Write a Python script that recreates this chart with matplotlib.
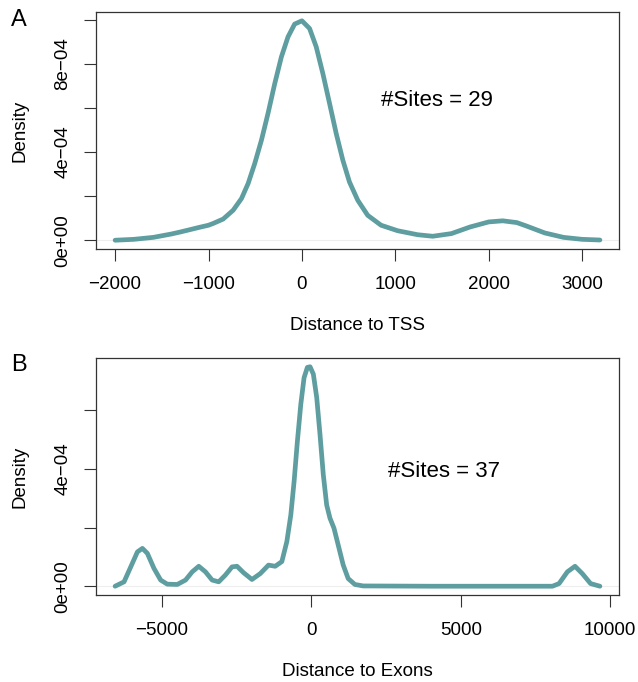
import matplotlib
matplotlib.use('Agg')
import matplotlib.pyplot as plt

# Panel A: density of distance to TSS
tss_x = [-2000, -1800, -1590, -1400, -1305, -1198, -1092, -1000, -950, -843,
         -736, -647, -576, -505, -433, -363, -291, -220, -149, -78, 0,
         82, 153, 224, 296, 367, 438, 509, 598, 704, 847, 1025, 1238,
         1400, 1600, 1800, 2000, 2150, 2300, 2400, 2600, 2800, 3000, 3190]
tss_y = [0.0, 4e-06, 1.3e-05, 2.8e-05, 3.7e-05, 4.8e-05, 5.9e-05, 6.8e-05,
         7.6e-05, 9.6e-05, 1.36e-04, 1.89e-04, 2.57e-04, 3.48e-04, 4.54e-04,
         5.75e-04, 7.1e-04, 8.31e-04, 9.22e-04, 9.8e-04, 9.95e-04,
         9.6e-04, 8.77e-04, 7.56e-04, 6.2e-04, 4.84e-04, 3.63e-04, 2.64e-04,
         1.81e-04, 1.13e-04, 6.8e-05, 4.3e-05, 2.5e-05, 1.8e-05, 3.0e-05,
         6.0e-05, 8.3e-05, 8.8e-05, 8.0e-05, 6.5e-05, 3.3e-05, 1.3e-05,
         4e-06, 1e-06]
tss_sites = 29

# Panel B: density of distance to exons
exon_x = [-6567, -6267, -6043, -5820, -5653, -5487, -5267, -5043, -4820, -4487,
          -4210, -3987, -3767, -3543, -3320, -3100, -2877, -2653, -2487, -2267,
          -1987, -1710, -1433, -1210, -987, -820, -687, -577, -467, -353, -243,
          -133, -43, 67, 180, 290, 400, 513, 623, 757, 900, 1067, 1233, 1457,
          1733, 4000, 6000, 8067, 8289, 8567, 8822, 9067, 9344, 9656]
exon_y = [0.0, 1.5e-05, 6.6e-05, 1.17e-04, 1.29e-04, 1.12e-04, 6.1e-05,
          2.1e-05, 7e-06, 6e-06, 2.1e-05, 4.9e-05, 6.8e-05, 4.9e-05, 2.1e-05,
          1.5e-05, 3.8e-05, 6.6e-05, 6.8e-05, 4.6e-05, 2.3e-05, 4.3e-05,
          7.2e-05, 6.8e-05, 8.4e-05, 1.52e-04, 2.43e-04, 3.57e-04, 4.94e-04,
          6.2e-04, 7.11e-04, 7.46e-04, 7.48e-04, 7.23e-04, 6.43e-04, 5.17e-04,
          3.8e-04, 2.77e-04, 2.32e-04, 1.98e-04, 1.4e-04, 7.2e-05, 2.6e-05,
          6e-06, 1e-06, 0.0, 0.0, 0.0, 9e-06, 4.9e-05, 6.8e-05, 4.3e-05,
          9e-06, 0.0]
exon_sites = 37

teal = '#5f9ea0'
plt.rcParams['font.family'] = ['Liberation Sans', 'DejaVu Sans']

fig = plt.figure(figsize=(6.38, 6.82), dpi=100)
W, H = 638, 682


def panel(box, xs, ys, xticks, yticks, ylabels, xlabel, letter, letter_y,
          sites, sites_xy):
    l, t, r, b = box
    ax = fig.add_axes([l / W, 1 - b / H, (r - l) / W, (b - t) / H])
    ax.plot(xs, ys, color=teal, lw=3.4, solid_joinstyle='round',
            solid_capstyle='round')
    ax.axhline(0, color='#eeeeee', lw=0.8, zorder=0)
    span = max(xs) - min(xs)
    ax.set_xlim(min(xs) - 0.04 * span, max(xs) + 0.04 * span)
    ymax = max(ys)
    ax.set_ylim(-0.04 * ymax, 1.04 * ymax)
    ax.set_xticks(xticks)
    ax.set_xticklabels([str(v).replace('-', '\u2212') for v in xticks])
    ax.set_yticks(yticks)
    ax.set_yticklabels(ylabels, rotation=90, va='center')
    ax.tick_params(axis='both', direction='out', length=8.5, width=0.8,
                   color='#333333', labelsize=13.5)
    ax.tick_params(axis='x', pad=11)
    ax.tick_params(axis='y', pad=9)
    for s in ax.spines.values():
        s.set_color('#333333')
        s.set_linewidth(0.9)
    ax.set_xlabel(xlabel, fontsize=13.5)
    ax.xaxis.set_label_coords(0.5, -77 / (b - t))
    ax.xaxis.label.set_va('center')
    ax.set_ylabel('Density', fontsize=13.5)
    ax.yaxis.set_label_coords((20 - l) / (r - l), 0.5)
    ax.yaxis.label.set_va('center')
    ax.text(sites_xy[0], sites_xy[1], '#Sites = %d' % sites, fontsize=16,
            ha='center', va='center')
    fig.text(19 / W, 1 - letter_y / H, letter, fontsize=17, ha='center',
             va='center')
    return ax


panel((95.7, 12, 619.3, 249), tss_x, tss_y,
      [-2000, -1000, 0, 1000, 2000, 3000],
      [0, 2e-4, 4e-4, 6e-4, 8e-4, 1e-3],
      ['0e+00', '', '4e\u221204', '', '8e\u221204', ''],
      'Distance to TSS', 'A', 20, tss_sites, (1443, 6.35e-4))

panel((95.7, 358, 619.3, 595), exon_x, exon_y,
      [-5000, 0, 5000, 10000],
      [0, 2e-4, 4e-4, 6e-4],
      ['0e+00', '', '4e\u221204', ''],
      'Distance to Exons', 'B', 365, exon_sites, (4437, 3.91e-4))

fig.savefig('out.png', dpi=100)
